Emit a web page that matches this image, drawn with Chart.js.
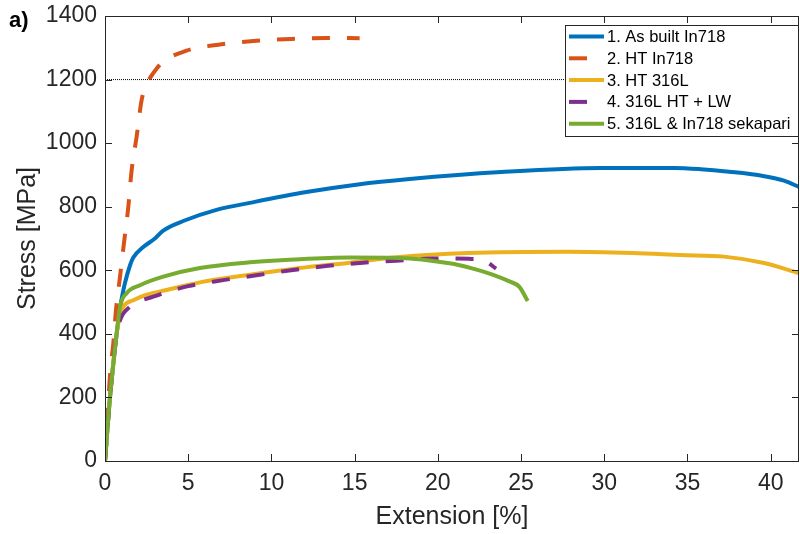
<!DOCTYPE html>
<html>
<head>
<meta charset="utf-8">
<script src="https://cdn.jsdelivr.net/npm/chart.js@4.4.1/dist/chart.umd.min.js"></script>
<style>
  html, body { margin: 0; padding: 0; background: #fff; }
</style>
</head>
<body>
<canvas id="stress-graph" width="800" height="534"></canvas>
<script>
// values (extension in %, stress in MPa)
const asBuiltExt = [0, 0.3, 0.7, 0.9, 1.0, 1.2, 1.5, 1.7, 2.3, 3.0, 3.5, 4.7, 6.7, 8.7, 12.1, 15.2, 18.3, 23.8, 29.8, 34.2, 35.8, 37.5, 39.4, 40.8, 41.7];
const asBuiltStress = [0, 200, 400, 480, 510, 560, 615, 640, 673, 700, 725, 755, 790, 812, 846, 870, 887, 909, 922, 922, 918, 910, 898, 882, 862];

const htInExt = [0, 0.3, 0.5, 0.66, 0.9, 1.14, 1.4, 1.6, 1.9, 2.2, 2.5, 2.9, 3.4, 4.9, 7.0, 9.1, 11.2, 13.3, 15.3];
const htInStress = [0, 270, 371, 475, 579, 686, 799, 915, 1020, 1135, 1185, 1220, 1252, 1291, 1311, 1322, 1328, 1331, 1330];

const ht316Ext = [0, 0.3, 0.7, 0.9, 1.1, 1.7, 2.5, 3.7, 5.7, 8.7, 11.7, 14.7, 17.7, 21.8, 27.8, 31.7, 34.6, 37.2, 39.6, 41.7];
const ht316Stress = [0, 200, 400, 455, 485, 506, 523, 538, 562, 586, 607, 624, 642, 654, 658, 654, 648, 643, 623, 591];

const lwExt = [0, 0.3, 0.7, 0.9, 1.5, 2.9, 5.0, 7.1, 9.2, 11.3, 13.4, 15.5, 17.5, 19.7, 21.9, 22.8, 23.5];
const lwStress = [0, 200, 400, 443, 485, 517, 550, 569, 585, 601, 614, 624, 630, 637, 636, 630, 605];

const sekExt = [0, 0.3, 0.7, 0.9, 1.3, 2.1, 3.5, 5.7, 8.7, 11.7, 14.7, 17.7, 20.7, 22.0, 23.2, 24.3, 24.9, 25.4];
const sekStress = [0, 200, 400, 485, 528, 553, 580, 607, 625, 635, 640, 639, 622, 607, 588, 565, 548, 503];

const refLineExt = [0, 41.7];
const refLineStress = [1200, 1200];

const seriesLabels = ["1. As built In718", "2. HT In718", "3. HT 316L", "4. 316L HT + LW", "5. 316L & In718 sekapari"];
const xTicks = [0, 5, 10, 15, 20, 25, 30, 35, 40];
const yTicks = [0, 200, 400, 600, 800, 1000, 1200, 1400];

const colors = ["#0072BD", "#D95319", "#EDB120", "#7E2F8E", "#77AC30"];
const dash = [18, 17];
const axisColor = "#262626";
const fontFamily = "'Liberation Sans', Arial, sans-serif";

function toPoints(xs, ys) {
  return xs.map((x, i) => ({ x: x, y: ys[i] }));
}

function lineSet(i, xs, ys, dashed) {
  return {
    label: seriesLabels[i],
    data: toPoints(xs, ys),
    borderColor: colors[i],
    borderWidth: 4,
    borderDash: dashed ? dash : [],
    borderCapStyle: "butt",
    pointRadius: 0,
    fill: false,
    cubicInterpolationMode: "monotone",
    order: 5 - i,
  };
}

// box round the plot with inward ticks on every side
const framePlugin = {
  id: "frame",
  afterDatasetsDraw(chart) {
    const { ctx, chartArea: a, scales } = chart;
    const len = 7;
    ctx.save();
    ctx.strokeStyle = axisColor;
    ctx.lineWidth = 1;
    ctx.beginPath();
    ctx.rect(a.left + 0.5, a.top + 0.5, a.right - a.left - 1, a.bottom - a.top);
    scales.x.ticks.forEach((t) => {
      const px = Math.round(scales.x.getPixelForValue(t.value)) + 0.5;
      ctx.moveTo(px, a.bottom);
      ctx.lineTo(px, a.bottom - len);
      ctx.moveTo(px, a.top);
      ctx.lineTo(px, a.top + len);
    });
    scales.y.ticks.forEach((t) => {
      const py = Math.round(scales.y.getPixelForValue(t.value)) + 0.5;
      ctx.moveTo(a.left, py);
      ctx.lineTo(a.left + len, py);
      ctx.moveTo(a.right, py);
      ctx.lineTo(a.right - len, py);
    });
    ctx.stroke();

    // panel letter
    ctx.fillStyle = "#000";
    ctx.font = "bold 22px " + fontFamily;
    ctx.textBaseline = "alphabetic";
    ctx.fillText("a)", 9, 27);
    ctx.restore();
  },
};

// legend inside the plot, top right
const legendPlugin = {
  id: "boxLegend",
  afterDraw(chart) {
    const { ctx, chartArea: a } = chart;
    const boxX = 565.5, boxY = 25.5, boxW = a.right - 566, boxH = 111;
    ctx.save();
    ctx.fillStyle = "#fff";
    ctx.fillRect(boxX, boxY, boxW, boxH);
    ctx.strokeStyle = axisColor;
    ctx.lineWidth = 1;
    ctx.strokeRect(boxX, boxY, boxW, boxH);
    ctx.font = "16.5px " + fontFamily;
    ctx.textBaseline = "middle";
    ctx.fillStyle = "#000";
    seriesLabels.forEach((lab, i) => {
      const y = 36.5 + i * 21.8;
      const ds = chart.data.datasets[i];
      ctx.strokeStyle = ds.borderColor;
      ctx.lineWidth = 4;
      ctx.setLineDash(ds.borderDash);
      ctx.lineCap = "butt";
      ctx.beginPath();
      ctx.moveTo(569, y);
      ctx.lineTo(604, y);
      ctx.stroke();
      ctx.setLineDash([]);
      ctx.fillText(lab, 607, y + 1);
    });
    ctx.restore();
  },
};

const ctx = document.getElementById("stress-graph");

new Chart(ctx, {
  type: "line",
  data: {
    datasets: [
      lineSet(0, asBuiltExt, asBuiltStress, false),
      lineSet(1, htInExt, htInStress, true),
      lineSet(2, ht316Ext, ht316Stress, false),
      lineSet(3, lwExt, lwStress, true),
      lineSet(4, sekExt, sekStress, false),
      {
        label: "",
        data: toPoints(refLineExt, refLineStress),
        borderColor: "#000",
        borderWidth: 1,
        borderDash: [1, 1],
        pointRadius: 0,
        order: 10,
      },
    ],
  },
  options: {
    responsive: false,
    animation: false,
    layout: { padding: { top: 16, right: 1, left: 0, bottom: 0 } },
    plugins: {
      legend: { display: false },
      tooltip: { enabled: false },
    },
    scales: {
      x: {
        type: "linear",
        min: 0,
        max: 41.7,
        afterBuildTicks: (scale) => { scale.ticks = xTicks.map((v) => ({ value: v })); },
        afterFit: (scale) => {
          scale.height = 73;
          scale.paddingLeft = 0;
          scale.paddingRight = 0;
        },
        grid: { display: false, drawTicks: false },
        border: { display: false },
        ticks: {
          color: axisColor,
          padding: 9,
          maxRotation: 0,
          callback: (v) => String(v),
          font: { family: fontFamily, size: 23 },
        },
        title: {
          display: true,
          text: "Extension [%]",
          color: axisColor,
          padding: { top: 0, bottom: 2 },
          font: { family: fontFamily, size: 25 },
        },
      },
      y: {
        type: "linear",
        min: 0,
        max: 1400,
        afterBuildTicks: (scale) => { scale.ticks = yTicks.map((v) => ({ value: v })); },
        afterFit: (scale) => {
          scale.width = 105;
          scale.paddingTop = 0;
          scale.paddingBottom = 0;
        },
        grid: { display: false, drawTicks: false },
        border: { display: false },
        ticks: {
          color: axisColor,
          padding: 8,
          callback: (v) => String(v),
          font: { family: fontFamily, size: 23 },
        },
        title: {
          display: true,
          text: "Stress [MPa]",
          color: axisColor,
          padding: { top: 13, bottom: 0 },
          font: { family: fontFamily, size: 25 },
        },
      },
    },
  },
  plugins: [framePlugin, legendPlugin],
});
</script>
</body>
</html>
